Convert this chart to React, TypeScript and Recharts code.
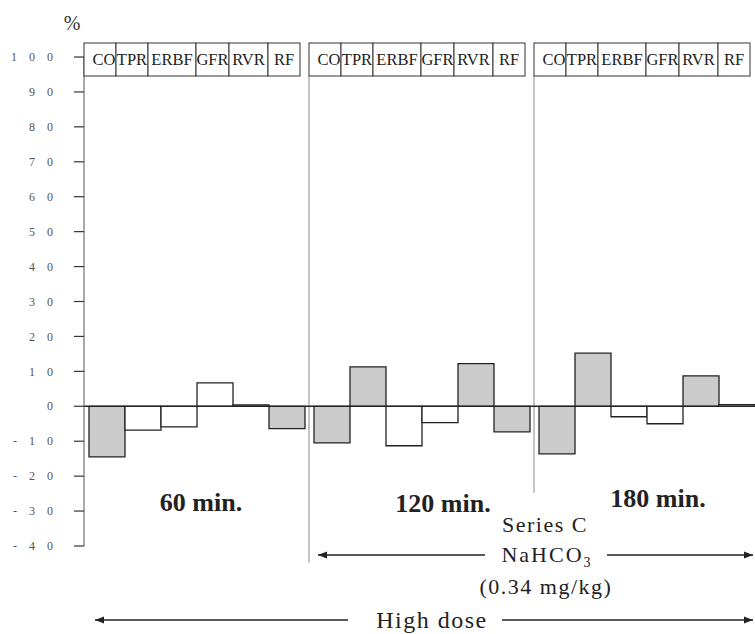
import { BarChart, Bar, XAxis, YAxis, ReferenceLine, Cell } from "recharts";

const times = ["60 min.", "120 min.", "180 min."];
const params = ["CO", "TPR", "ERBF", "GFR", "RVR", "RF"];

// % change from baseline, per time point
const coValues = [-14.5, -10.5, -13.6];
const tprValues = [-6.8, 11.3, 15.2];
const erbfValues = [-5.9, -11.3, -3.0];
const gfrValues = [6.7, -4.7, -5.0];
const rvrValues = [0.4, 12.2, 8.7];
const rfValues = [-6.4, -7.3, 0.5];

// stippled (grey) bars
const coShaded = [true, true, true];
const tprShaded = [false, true, true];
const erbfShaded = [false, false, false];
const gfrShaded = [false, false, false];
const rvrShaded = [false, true, true];
const rfShaded = [true, true, false];

const yTicks = [100, 90, 80, 70, 60, 50, 40, 30, 20, 10, 0, -10, -20, -30, -40];

const seriesValues = [coValues, tprValues, erbfValues, gfrValues, rvrValues, rfValues];
const seriesShaded = [coShaded, tprShaded, erbfShaded, gfrShaded, rvrShaded, rfShaded];

const data = times.map((t, i) => {
  const row: Record<string, string | number> = { time: t };
  params.forEach((p, j) => {
    row[p] = seriesValues[j][i];
  });
  return row;
});

const SERIF = "'Liberation Serif', 'DejaVu Serif', serif";
const INK = "#222";
const GREY = "#cbcbcb";

// header box cell widths (px)
const headerWidths = [32, 32, 48, 33, 39, 32];

function HeaderTick(props: any) {
  const { x, y } = props;
  let left = x - 112.5;
  const top = y - 14;
  return (
    <g>
      {params.map((p, i) => {
        const w = headerWidths[i];
        const cx = left + w / 2 + (p === "CO" ? 4 : 0);
        const el = (
          <g key={p}>
            <rect x={left} y={top} width={w} height={33} fill="#fff" stroke="#333" strokeWidth={1} />
            <text x={cx} y={top + 22} textAnchor="middle" fontFamily={SERIF} fontSize={16.5} fill={INK}>
              {p}
            </text>
          </g>
        );
        left += w;
        return el;
      })}
    </g>
  );
}

function YTick(props: any) {
  const { x, y, payload } = props;
  const s = String(payload.value);
  const chars = s.split("");
  return (
    <g>
      {chars.map((c, i) => (
        <text
          key={i}
          x={x - (chars.length - 1 - i) * 18}
          y={y}
          dy="0.35em"
          textAnchor="end"
          fontFamily={SERIF}
          fontSize={12}
          fill="#555"
        >
          {c}
        </text>
      ))}
    </g>
  );
}

function Arrow({ x1, x2, y }: { x1: number; x2: number; y: number }) {
  return <line x1={x1} y1={y} x2={x2} y2={y} stroke={INK} strokeWidth={1.4} />;
}

function Head({ x, y, dir }: { x: number; y: number; dir: 1 | -1 }) {
  const b = x - dir * 9;
  return <polygon points={`${x},${y} ${b},${y - 3.5} ${b},${y + 3.5}`} fill={INK} />;
}

export default function App() {
  return (
    <div
      style={{
        position: "absolute",
        left: 0,
        top: 0,
        width: 755,
        height: 634,
        overflow: "hidden",
        background: "#fff",
      }}
    >
      <BarChart
        width={760}
        height={634}
        data={data}
        margin={{ top: 0, right: 1, bottom: 88, left: 0 }}
        barGap={0}
        barCategoryGap={5}
      >
        <XAxis
          xAxisId="head"
          dataKey="time"
          orientation="top"
          height={57}
          axisLine={false}
          tickLine={false}
          tickSize={0}
          tickMargin={0}
          tick={<HeaderTick />}
          interval={0}
        />
        <YAxis
          width={84}
          domain={[-40, 100]}
          ticks={yTicks}
          interval={0}
          allowDataOverflow
          axisLine={{ stroke: "#555", strokeWidth: 1 }}
          tickLine={{ stroke: "#333", strokeWidth: 1.2 }}
          tickSize={10}
          tickMargin={21}
          tick={<YTick />}
        />
        <ReferenceLine
          xAxisId="head"
          segment={[
            { x: times[1], y: 94.7 },
            { x: times[1], y: -44.8 },
          ]}
          position="start"
          ifOverflow="visible"
          stroke="#8a8a8a"
          strokeWidth={1}
        />
        <ReferenceLine
          xAxisId="head"
          segment={[
            { x: times[2], y: 94.7 },
            { x: times[2], y: -24.8 },
          ]}
          position="start"
          ifOverflow="visible"
          stroke="#8a8a8a"
          strokeWidth={1}
        />
        {params.map((p, j) => (
          <Bar
            key={p}
            xAxisId="head"
            dataKey={p}
            stroke={INK}
            strokeWidth={1.3}
            isAnimationActive={false}
          >
            {data.map((_, i) => (
              <Cell key={i} fill={seriesShaded[j][i] ? GREY : "#fff"} />
            ))}
          </Bar>
        ))}
        <ReferenceLine xAxisId="head" y={0} stroke={INK} strokeWidth={1.6} />
      </BarChart>

      <svg
        width={755}
        height={634}
        style={{ position: "absolute", left: 0, top: 0, pointerEvents: "none" }}
      >
        <text x={72} y={30} textAnchor="middle" fontFamily={SERIF} fontSize={20} fill="#333">
          %
        </text>

        <text x={201} y={511} textAnchor="middle" fontFamily={SERIF} fontSize={26} fontWeight="bold" fill={INK}>
          {times[0]}
        </text>
        <text x={443} y={512} textAnchor="middle" fontFamily={SERIF} fontSize={26} fontWeight="bold" fill={INK}>
          {times[1]}
        </text>
        <text x={658} y={507} textAnchor="middle" fontFamily={SERIF} fontSize={26} fontWeight="bold" fill={INK}>
          {times[2]}
        </text>

        <text x={545} y={532} textAnchor="middle" fontFamily={SERIF} fontSize={22} letterSpacing={1.5} fill={INK}>
          Series C
        </text>

        <Arrow x1={318} x2={485} y={555} />
        <Head x={318} y={555} dir={-1} />
        <text x={547} y={562} textAnchor="middle" fontFamily={SERIF} fontSize={22} letterSpacing={2} fill={INK}>
          NaHCO
          <tspan fontSize={14} dy={5}>3</tspan>
        </text>
        <Arrow x1={607} x2={753} y={555} />
        <Head x={753} y={555} dir={1} />

        <text x={546} y={594} textAnchor="middle" fontFamily={SERIF} fontSize={22} letterSpacing={1.5} fill={INK}>
          (0.34 mg/kg)
        </text>

        <Arrow x1={95} x2={348} y={620} />
        <Head x={95} y={620} dir={-1} />
        <text x={432} y={628} textAnchor="middle" fontFamily={SERIF} fontSize={24} letterSpacing={1.5} fill={INK}>
          High dose
        </text>
        <Arrow x1={502} x2={753} y={620} />
        <Head x={753} y={620} dir={1} />
      </svg>
    </div>
  );
}
